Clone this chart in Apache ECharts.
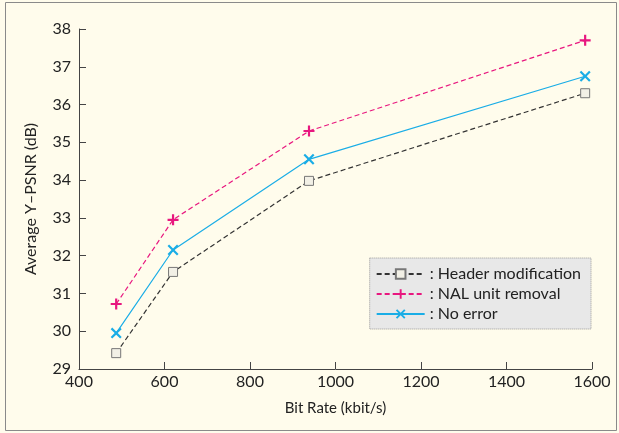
<!DOCTYPE html>
<html><head><meta charset="utf-8">
<script src="https://cdn.jsdelivr.net/npm/echarts@6/dist/echarts.min.js"></script>
<style>html,body{margin:0;padding:0;background:#fffcec;}#c{width:619px;height:433px;}</style>
</head><body><div id="c"></div>
<script>
const bitRates = [487, 620, 938, 1584];
const headerMod = [29.42, 31.57, 33.98, 36.3];
const nalRemoval = [30.72, 32.95, 35.3, 37.7];
const noError = [29.95, 32.15, 34.55, 36.75];
const seriesNames = ['Header modification', 'NAL unit removal', 'No error'];

const pairs = v => bitRates.map((x, i) => [x, v[i]]);
const font = 'Lato, "Open Sans", sans-serif';
const chart = echarts.init(document.getElementById('c'));
chart.setOption({
  backgroundColor: '#fffcec',
  animation: false,
  graphic: [{type:'rect', shape:{x:5.5,y:2.5,width:611,height:428}, style:{fill:'none', stroke:'#8a8a8a', lineWidth:1}, silent:true}],
  grid: {left: 79, right: 27, top: 29, bottom: 64},
  legend: {
    orient: 'vertical', right: 28, top: 258,
    backgroundColor: '#e8e8e8', borderColor: '#999', borderWidth: 1, borderType: 'dotted',
    padding: [8, 10, 7, 6], itemGap: 4, itemWidth: 48, itemHeight: 12,
    textStyle: {fontFamily: font, fontSize: 16, color: '#222'},
    formatter: n => ': ' + n,
    data: seriesNames
  },
  xAxis: {
    type: 'value', min: 400, max: 1600, interval: 200,
    name: 'Bit Rate (kbit/s)', nameLocation: 'middle', nameGap: 32,
    nameTextStyle: {fontFamily: font, fontSize: 15, color: '#222'},
    axisLine: {lineStyle: {color: '#444', width: 1}},
    axisTick: {inside: true, length: 7, lineStyle: {color: '#444'}},
    axisLabel: {fontFamily: font, fontSize: 16, color: '#222', margin: 5, formatter: v => String(v)},
    splitLine: {show: false}
  },
  yAxis: {
    type: 'value', min: 29, max: 38, interval: 1,
    name: 'Average Y\u2013PSNR (dB)', nameLocation: 'middle', nameGap: 40,
    nameTextStyle: {fontFamily: font, fontSize: 16, color: '#222'},
    axisLine: {show: true, lineStyle: {color: '#444', width: 1}},
    axisTick: {show: true, inside: true, length: 7, lineStyle: {color: '#444'}},
    axisLabel: {fontFamily: font, fontSize: 16, color: '#222', margin: 8},
    splitLine: {show: false}
  },
  series: [
    {name: seriesNames[0], type: 'line', data: pairs(headerMod), symbol: 'rect', symbolSize: 9,
     lineStyle: {color: '#333', width: 1.2, type: [5, 3]},
     itemStyle: {color: '#f2f0e6', borderColor: '#777', borderWidth: 1}},
    {name: seriesNames[1], type: 'line', data: pairs(nalRemoval),
     symbol: 'path://M4,0H6V4H10V6H6V10H4V6H0V4H4Z', symbolSize: 11,
     lineStyle: {color: '#e8177f', width: 1.2, type: [5, 3]},
     itemStyle: {color: '#e8177f'}},
    {name: seriesNames[2], type: 'line', data: pairs(noError),
     symbol: 'path://M1.4,0L5,3.6L8.6,0L10,1.4L6.4,5L10,8.6L8.6,10L5,6.4L1.4,10L0,8.6L3.6,5L0,1.4Z', symbolSize: 11,
     lineStyle: {color: '#1aade6', width: 1.2},
     itemStyle: {color: '#1aade6'}}
  ]
});
</script></body></html>
